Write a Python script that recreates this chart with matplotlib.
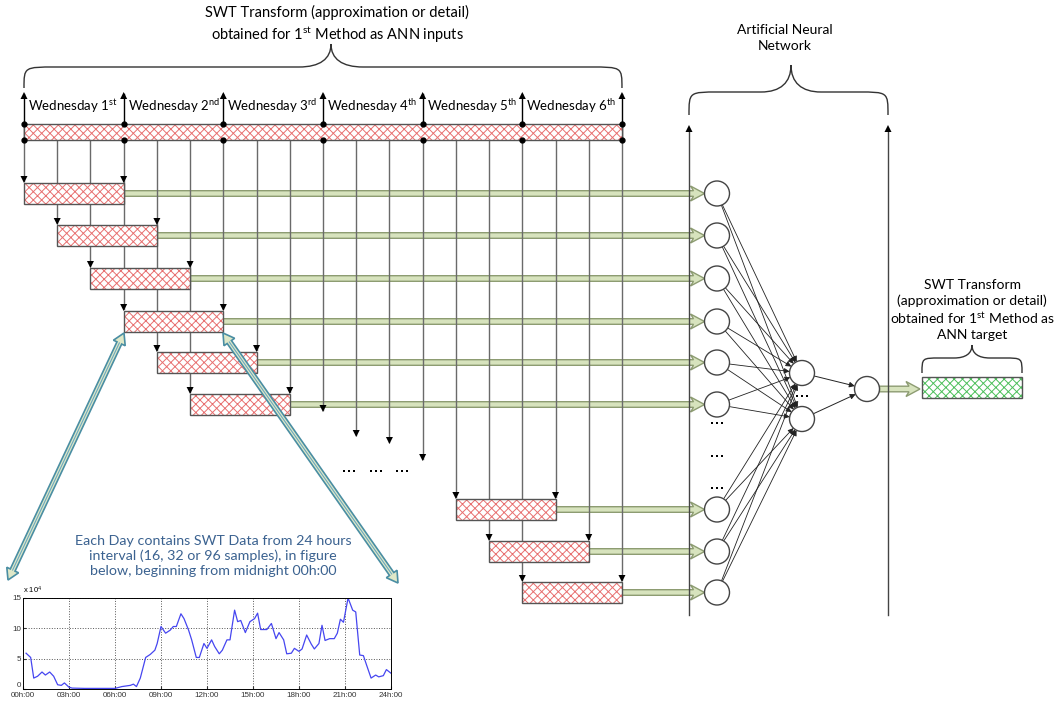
import matplotlib
matplotlib.use('Agg')
import matplotlib.pyplot as plt
from matplotlib.patches import Rectangle, Circle, Polygon, PathPatch
from matplotlib.path import Path
import numpy as np

plt.rcParams['font.family'] = ['Lato', 'DejaVu Sans']
plt.rcParams['mathtext.fontset'] = 'custom'
plt.rcParams['mathtext.rm'] = 'Lato'
plt.rcParams['mathtext.it'] = 'Lato:italic'
plt.rcParams['mathtext.bf'] = 'Lato:bold'
plt.rcParams['hatch.linewidth'] = 0.7

### diagram content ###
day_names = [r'Wednesday $1^{\mathrm{st}}$', r'Wednesday $2^{\mathrm{nd}}$', r'Wednesday $3^{\mathrm{rd}}$',
             r'Wednesday $4^{\mathrm{th}}$', r'Wednesday $5^{\mathrm{th}}$', r'Wednesday $6^{\mathrm{th}}$']
top_title = 'SWT Transform (approximation or detail)\n' + r'obtained for $1^{\mathrm{st}}$ Method as ANN inputs'
ann_title = 'Artificial Neural\nNetwork'
target_title = ('SWT Transform\n(approximation or detail)\n'
                + r'obtained for $1^{\mathrm{st}}$ Method as' + '\nANN target')
inset_note = ('Each Day contains SWT Data from 24 hours\ninterval (16, 32 or 96 samples), in figure\n'
              'below, beginning from midnight 00h:00')

# sliding windows drawn (index of first sample, top y of the window box)
window_start = [0, 1, 2, 3, 4, 5, 13, 14, 15]
window_top = [183, 225, 268, 311, 352, 394, 499, 541, 582]
# sample lines that end on their own arrow (the "..." windows)
open_line = [9, 10, 11, 12]
open_line_end = [412, 437, 444, 461]

# inset: one day of data (x 10^4)
hours = [0.2, 0.5, 0.7, 0.95, 1.24, 1.46, 1.74, 2.0, 2.26, 2.5, 2.7, 3.0, 3.2, 4.0, 5.0, 6.0,
         6.45, 7.0, 7.2, 7.4, 7.65, 8.0, 8.3, 8.6, 8.75, 9.0, 9.3, 9.6, 9.8, 10.0, 10.3, 10.5,
         10.8, 11.0, 11.3, 11.5, 11.8, 12.0, 12.3, 12.5, 12.8, 13.0, 13.3, 13.5, 13.8, 14.0,
         14.2, 14.5, 14.8, 15.1, 15.3, 15.5, 15.9, 16.2, 16.5, 16.7, 17.0, 17.2, 17.5, 17.7,
         18.0, 18.2, 18.5, 18.8, 19.0, 19.3, 19.5, 19.7, 20.0, 20.3, 20.5, 20.7, 20.9, 21.2,
         21.5, 21.7, 21.96, 22.2, 22.4, 22.7, 23.0, 23.2, 23.5, 23.7, 24.0]
load = [5.9, 5.2, 1.8, 2.1, 2.8, 2.3, 2.8, 2.1, 0.7, 0.6, 1.0, 0.3, 0.15, 0.1, 0.1, 0.1,
        0.4, 0.6, 0.8, 0.4, 1.8, 5.2, 5.7, 6.4, 7.5, 10.3, 9.2, 9.7, 10.3, 10.3, 12.4, 11.6,
        9.7, 8.1, 5.2, 5.2, 7.5, 6.7, 8.1, 7.0, 5.8, 6.4, 8.1, 8.1, 13.0, 11.1,
        11.3, 9.3, 11.1, 11.6, 12.5, 9.8, 9.8, 10.8, 8.3, 9.3, 8.1, 5.8, 5.9, 6.7,
        6.2, 6.6, 8.9, 7.4, 6.6, 7.5, 10.5, 8.0, 8.3, 8.3, 9.2, 11.5, 11.0, 15.0,
        13.0, 12.7, 5.6, 5.5, 4.0, 1.8, 2.3, 2.0, 2.2, 3.2, 2.6]
hour_ticks = [0, 3, 6, 9, 12, 15, 18, 21, 24]
hour_labels = ['00h:00', '03h:00', '06h:00', '09h:00', '12h:00', '15h:00', '18h:00', '21h:00', '24h:00']

### layout (pixels) ###
X0, STEP = 24, 33.22
xs = [X0 + STEP * i for i in range(19)]
BAR_TOP, BAR_BOT = 124, 140
BOX_H = 21
IN_X, HID_X, OUT_X, R = 717, 802, 867, 12.5
hidden_y = [373, 419]
out_y = 389
ann_left, ann_right = 689, 888

RED, GRID, EDGE = '#e87070', '#6a6a6a', '#555555'
GREEN_FILL, GREEN_EDGE = '#d7e3bd', '#8d9c72'

fig = plt.figure(figsize=(10.63, 7.02), dpi=100)
ax = fig.add_axes([0, 0, 1, 1])
ax.set_xlim(0, 1063)
ax.set_ylim(702, 0)
ax.axis('off')


def hatched(x, y, w, h, col):
    ax.add_patch(Rectangle((x, y), w, h, facecolor='white', edgecolor=col, hatch='xxxx', lw=0, zorder=3))
    ax.add_patch(Rectangle((x, y), w, h, fill=False, edgecolor=EDGE, lw=1, zorder=3.1))


def head(x, y, up=False, s=3.5):
    d = 7 if not up else -7
    ax.add_patch(Polygon([(x - s, y - d), (x + s, y - d), (x, y)], closed=True, color='k', lw=0, zorder=2.5))


def fat_arrow(x0, x1, y, w=2.8, hw=7.5, hl=11):
    pts = [(x0, y - w), (x1 - hl, y - w), (x1 - hl - 3, y - hw), (x1, y),
           (x1 - hl - 3, y + hw), (x1 - hl, y + w), (x0, y + w)]
    ax.add_patch(Polygon(pts, closed=True, facecolor=GREEN_FILL, edgecolor=GREEN_EDGE, lw=1, zorder=1))


def double_arrow(p0, p1, w=2.6, hw=6.5, hl=11):
    p0, p1 = np.array(p0, float), np.array(p1, float)
    u = (p1 - p0) / np.hypot(*(p1 - p0))
    n = np.array([-u[1], u[0]])
    pts = [p0, p0 + u * hl + n * hw, p0 + u * hl + n * w, p1 - u * hl + n * w, p1 - u * hl + n * hw,
           p1, p1 - u * hl - n * hw, p1 - u * hl - n * w, p0 + u * hl - n * w, p0 + u * hl - n * hw]
    ax.add_patch(Polygon(pts, closed=True, facecolor='#dfe8c8', edgecolor='#4a8ea3', lw=1.2, zorder=4))
    ax.plot([p0[0] + u[0] * hl, p1[0] - u[0] * hl], [p0[1] + u[1] * hl, p1[1] - u[1] * hl],
            color='#6aa8c0', lw=0.8, zorder=4.1)


def brace(x0, x1, y_end, y_top, xc, y_cusp, r):
    verts = [(x0, y_end), (x0, y_top), (x0, y_top), (x0 + r, y_top),
             (xc - r, y_top),
             (xc - r * 0.35, y_top), (xc, y_top - (y_top - y_cusp) * 0.35), (xc, y_cusp),
             (xc, y_top - (y_top - y_cusp) * 0.35), (xc + r * 0.35, y_top), (xc + r, y_top),
             (x1 - r, y_top),
             (x1, y_top), (x1, y_top), (x1, y_end)]
    codes = [Path.MOVETO, Path.CURVE4, Path.CURVE4, Path.CURVE4, Path.LINETO,
             Path.CURVE4, Path.CURVE4, Path.CURVE4, Path.CURVE4, Path.CURVE4, Path.CURVE4,
             Path.LINETO, Path.CURVE4, Path.CURVE4, Path.CURVE4]
    ax.add_patch(PathPatch(Path(verts, codes), fill=False, edgecolor='#333333', lw=1))


def dots(x, y):
    ax.plot([x - 5, x, x + 5], [y, y, y], 's', ms=1.7, mew=0, color='k', zorder=5)


# titles
ax.text(337, 25, top_title, ha='center', va='center', fontsize=10.5, linespacing=1.3)
ax.text(785, 38, ann_title, ha='center', va='center', fontsize=10, linespacing=1.35)
ax.text(972, 310, target_title, ha='center', va='center', fontsize=10, linespacing=1.3)
ax.text(213, 556, inset_note, ha='center', va='center', fontsize=10.3, color='#3b6290', linespacing=1.3)

brace(xs[0], xs[-1], 88, 67, 331, 44, 32)
brace(ann_left, ann_right, 115, 92, 791, 65, 30)
brace(922, 1022, 373, 358, 972, 345, 18)

# top bar with day labels
hatched(xs[0], BAR_TOP, xs[-1] - xs[0], BAR_BOT - BAR_TOP, RED)
for d, name in enumerate(day_names):
    ax.text(xs[3 * d] + 4, 106, name, ha='left', va='center', fontsize=9.5)
for d in range(7):
    x = xs[3 * d]
    ax.plot([x, x], [BAR_BOT, 94], color='k', lw=1, zorder=2)
    head(x, 92, up=True)
    ax.plot([x, x], [BAR_TOP, BAR_BOT], 'o', ms=3.5, color='k', zorder=5)

# sample lines and arrows into the windows
line_ends = {i: [] for i in range(19)}
for k, top in zip(window_start, window_top):
    line_ends[k].append(top)
    line_ends[k + 3].append(top)
for i, y in zip(open_line, open_line_end):
    line_ends[i].append(y)
for i, ends in line_ends.items():
    if not ends:
        continue
    ax.plot([xs[i], xs[i]], [BAR_BOT, max(ends) - 2], color=GRID, lw=1, zorder=2)
    for y in ends:
        head(xs[i], y)

# windows and green arrows into the input neurons
for k, top in zip(window_start, window_top):
    hatched(xs[k], top, 3 * STEP, BOX_H, RED)
    fat_arrow(xs[k + 3], IN_X - R, top + BOX_H / 2)
    ax.add_patch(Circle((IN_X, top + BOX_H / 2), R, facecolor='white', edgecolor='#444444', lw=1, zorder=4))
    for hy in hidden_y:
        src = np.array([IN_X, top + BOX_H / 2])
        dst = np.array([HID_X, hy])
        u = (dst - src) / np.hypot(*(dst - src))
        a, b = src + u * R, dst - u * R
        ax.annotate('', xy=b, xytext=a,
                    arrowprops=dict(arrowstyle='-|>', color='#222222', lw=0.6, mutation_scale=8,
                                    shrinkA=0, shrinkB=0), zorder=3)

for y in [423, 456, 488]:
    dots(IN_X, y)
dots(349, 471)
dots(376, 471)
dots(402, 471)
dots(HID_X, 396)

# ANN frame
for x in [ann_left, ann_right]:
    ax.plot([x, x], [615, 129], color='#444444', lw=1, zorder=2)
    head(x, 125, up=True)

# hidden and output neurons
for hy in hidden_y:
    ax.add_patch(Circle((HID_X, hy), R, facecolor='white', edgecolor='#444444', lw=1, zorder=4))
    src, dst = np.array([HID_X, hy]), np.array([OUT_X, out_y])
    u = (dst - src) / np.hypot(*(dst - src))
    ax.annotate('', xy=dst - u * R, xytext=src + u * R,
                arrowprops=dict(arrowstyle='-|>', color='#222222', lw=0.7, mutation_scale=8,
                                shrinkA=0, shrinkB=0), zorder=3)
ax.add_patch(Circle((OUT_X, out_y), R, facecolor='white', edgecolor='#444444', lw=1, zorder=4))
fat_arrow(OUT_X + R, 920, out_y)
hatched(922, 377, 100, 21, '#4cbf5a')

# zoom arrows to the inset
double_arrow((124, 333), (8, 580))
double_arrow((223, 333), (398, 583))

# inset chart
ins = fig.add_axes([23 / 1063, 1 - 689 / 702, 368 / 1063, 91 / 702])
ins.plot(hours, load, color='#4646f0', lw=0.9)
ins.set_xlim(0, 24)
ins.set_ylim(0, 15)
ins.set_xticks(hour_ticks)
ins.set_xticklabels(hour_labels, family='Liberation Sans')
ins.set_yticks([0, 5, 10, 15])
ins.set_yticklabels(['0', '5', '10', '15'], family='Liberation Sans')
ins.tick_params(labelsize=5.8, direction='in', length=2, pad=1.5, colors='#333333')
ins.tick_params(axis='x', pad=2)
ins.get_yticklabels()[0].set_va('bottom')
ins.grid(True, linestyle=':', color='#555555', lw=0.7)
for s in ins.spines.values():
    s.set_linewidth(0.7)
ins.text(0.0, 1.03, r'x 10$^4$', transform=ins.transAxes, fontsize=5.5, family='Liberation Sans',
         ha='left', va='bottom')

fig.savefig('out.png', dpi=100)
